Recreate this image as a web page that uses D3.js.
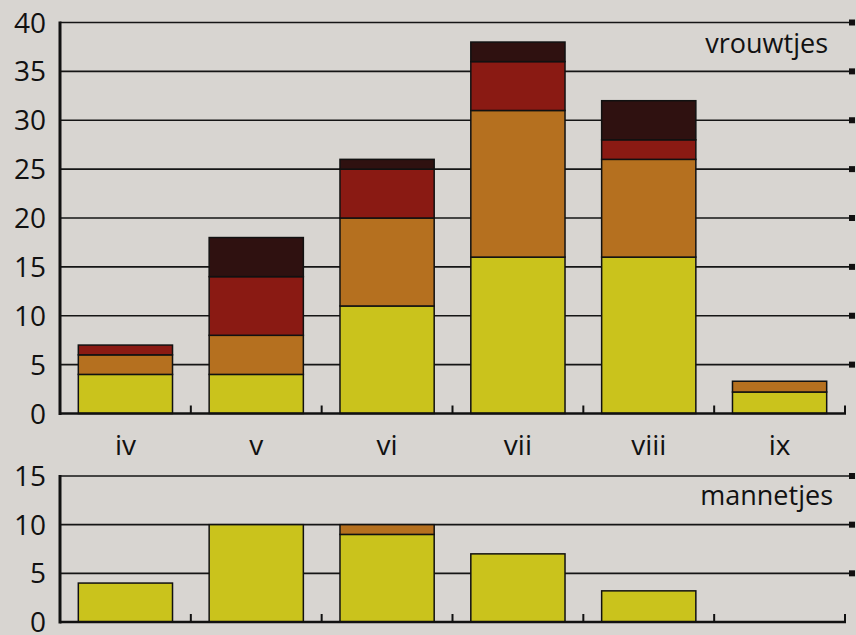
<!DOCTYPE html>
<html>
<head>
<meta charset="utf-8">
<script src="https://cdn.jsdelivr.net/npm/d3@7"></script>
<style>
  html, body { margin: 0; padding: 0; background: #d8d5d1; }
  svg { display: block; }
  text { font-family: 'Open Sans', sans-serif; fill: #111; }
</style>
</head>
<body>
<script>
// months (roman numerals) and counts per stack layer
let categories = ['iv', 'v', 'vi', 'vii', 'viii', 'ix']
let femYellow = [4, 4, 11, 16, 16, 2.2]
let femOrange = [2, 4, 9, 15, 10, 1.1]
let femRed = [1, 6, 5, 5, 2, 0]
let femDark = [0, 4, 1, 2, 4, 0]
let maleYellow = [4, 10, 9, 7, 3.2, 0]
let maleOrange = [0, 0, 1, 0, 0, 0]
let femTicks = [0, 5, 10, 15, 20, 25, 30, 35, 40]
let maleTicks = [0, 5, 10, 15]

let layers = ['yellow', 'orange', 'red', 'dark']
let color = d3.scaleOrdinal()
    .domain(layers)
    .range(['#cac31c', '#b5701f', '#8a1a13', '#2f1110'])

let width = 856, height = 635
let left = 60, right = 845, gridEnd = 852

let svg = d3.select('body')
    .append('svg')
    .attr('width', width)
    .attr('height', height)

let x = d3.scaleBand()
    .domain(categories)
    .range([left, right])
    .paddingInner(0.28)
    .paddingOuter(0.14)

let table = (cols) => categories.map((c, i) => {
    let row = { cat: c }
    layers.forEach((l, j) => row[l] = cols[j] ? cols[j][i] : 0)
    return row
})

let panels = [
    { rows: table([femYellow, femOrange, femRed, femDark]), ticks: femTicks,
      max: 40, range: [413.5, 22.5], label: 'vrouwtjes', labelX: 828, labelY: 53 },
    { rows: table([maleYellow, maleOrange]), ticks: maleTicks,
      max: 15, range: [622, 476], label: 'mannetjes', labelX: 833, labelY: 505 }
]

let stack = d3.stack().keys(layers)

panels.forEach(p => {
    let y = d3.scaleLinear().domain([0, p.max]).range(p.range)
    let g = svg.append('g')

    // grid lines with square end marks
    let grid = p.ticks.filter(t => t > 0)
    g.selectAll('.grid')
        .data(grid)
        .enter()
        .append('line')
        .attr('x1', left)
        .attr('x2', gridEnd - 2)
        .attr('y1', d => y(d))
        .attr('y2', d => y(d))
        .attr('stroke', '#151515')
        .attr('stroke-width', 1.6)
    g.selectAll('.mark')
        .data(grid)
        .enter()
        .append('rect')
        .attr('x', gridEnd - 3)
        .attr('y', d => y(d) - 3)
        .attr('width', 6)
        .attr('height', 6)
        .attr('fill', '#111')

    // stacked bars
    let series = stack(p.rows)
    g.selectAll('.layer')
        .data(series)
        .enter()
        .append('g')
        .attr('fill', d => color(d.key))
        .selectAll('rect')
        .data(d => d.filter(s => s[1] - s[0] > 0))
        .enter()
        .append('rect')
        .attr('x', d => x(d.data.cat))
        .attr('width', x.bandwidth())
        .attr('y', d => y(d[1]))
        .attr('height', d => y(d[0]) - y(d[1]))
        .attr('stroke', '#111')
        .attr('stroke-width', 1.5)

    // axes
    g.append('line')
        .attr('x1', left).attr('x2', left)
        .attr('y1', y(p.max) - 1).attr('y2', y(0) + 1.5)
        .attr('stroke', '#111').attr('stroke-width', 3)
    g.append('line')
        .attr('x1', left).attr('x2', right + 1)
        .attr('y1', y(0)).attr('y2', y(0))
        .attr('stroke', '#111').attr('stroke-width', 2.6)

    let gap = x.step() * x.paddingInner() / 2
    g.selectAll('.tick')
        .data(categories)
        .enter()
        .append('line')
        .attr('x1', d => x(d) + x.bandwidth() + gap)
        .attr('x2', d => x(d) + x.bandwidth() + gap)
        .attr('y1', y(0))
        .attr('y2', y(0) - 8)
        .attr('stroke', '#111')
        .attr('stroke-width', 2)

    g.selectAll('.ylab')
        .data(p.ticks)
        .enter()
        .append('text')
        .attr('x', 46)
        .attr('y', d => y(d))
        .attr('dy', '0.36em')
        .attr('text-anchor', 'end')
        .style('font-size', '28px')
        .text(d => d)

    g.append('text')
        .attr('x', p.labelX)
        .attr('y', p.labelY)
        .attr('text-anchor', 'end')
        .style('font-size', '27px')
        .text(p.label)
})

// month labels between the panels
svg.selectAll('.cat')
    .data(categories)
    .enter()
    .append('text')
    .attr('x', d => x(d) + x.bandwidth() / 2)
    .attr('y', 455)
    .attr('text-anchor', 'middle')
    .style('font-size', '28px')
    .text(d => d)
</script>
</body>
</html>
